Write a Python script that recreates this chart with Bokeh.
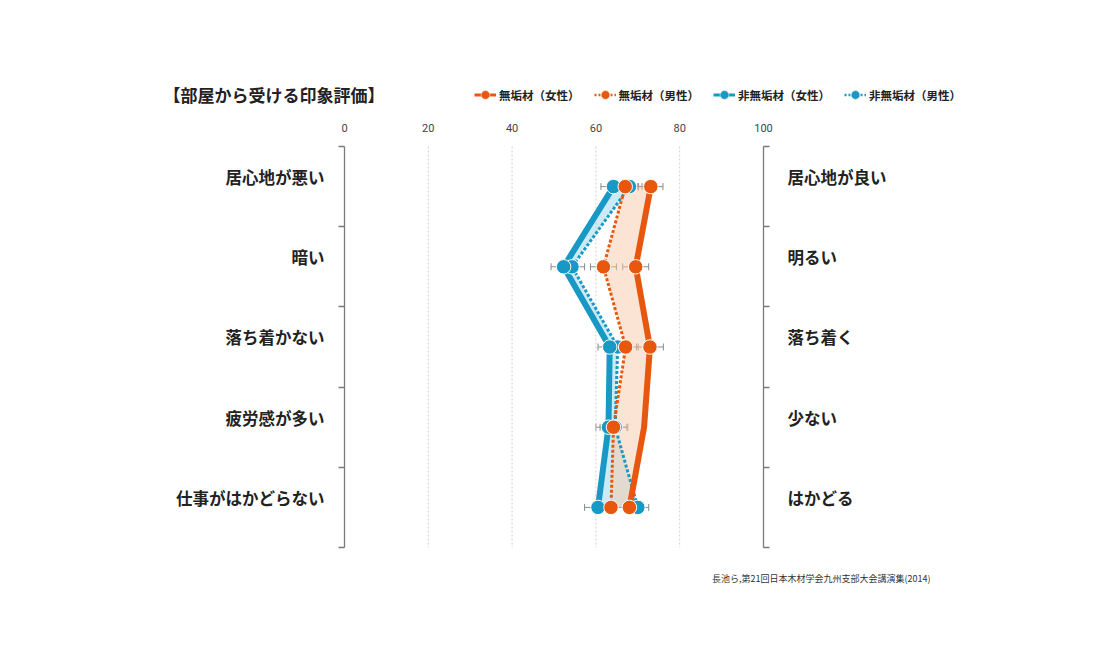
from bokeh.plotting import figure
from bokeh.models import (Range1d, FixedTicker, LinearAxis, Label, Legend, LegendItem,
                          ColumnDataSource, Whisker, TeeHead)
from bokeh.embed import file_html
from bokeh.resources import INLINE

# ---------------- data ----------------
left_labels = ["居心地が悪い", "暗い", "落ち着かない", "疲労感が多い", "仕事がはかどらない"]
right_labels = ["居心地が良い", "明るい", "落ち着く", "少ない", "はかどる"]
rows = [0.5, 1.5, 2.5, 3.5, 4.5]
row_edges = [0, 1, 2, 3, 4, 5]
x_ticks = [0, 20, 40, 60, 80, 100]
grid_ticks = [20, 40, 60, 80]

series_names = ["無垢材（女性）", "無垢材（男性）", "非無垢材（女性）", "非無垢材（男性）"]
wood_female = [73.1, 69.5, 72.9, 71.5, 68.0]
wood_male = [67.0, 61.8, 67.1, 64.2, 63.6]
nonwood_female = [64.2, 52.3, 63.3, 63.0, 60.5]
nonwood_male = [68.0, 54.3, 65.2, 64.6, 70.0]

wood_female_err = [2.9, 3.1, 3.2, 3.0, 3.0]
wood_male_err = [3.0, 3.1, 3.0, 3.2, 3.0]
nonwood_female_err = [3.0, 3.0, 2.8, 3.0, 3.2]
nonwood_male_err = [3.0, 3.0, 3.0, 3.0, 2.6]

# the 4th point of 無垢材（女性） has no marker / error bar in the source figure
wood_female_shown = [True, True, True, False, True]

title_text = "【部屋から受ける印象評価】"
source_text = "長池ら,第21回日本木材学会九州支部大会講演集(2014)"

ORANGE = "#E8570E"
BLUE = "#1898C4"
FONT = "Noto Sans CJK JP"

# ---------------- geometry (pixels) ----------------
W, H = 1084, 636
PLOT_L, PLOT_R = 344, 763      # pixel of x = 0 and x = 100
PLOT_T, PLOT_B = 146, 547      # pixel of row edge 0 and 5
sx = (PLOT_R - PLOT_L) / 100.0
sy = (PLOT_B - PLOT_T) / 5.0


def X(px):
    return (px - PLOT_L) / sx


def Y(py):
    return (py - PLOT_T) / sy


# the frame covers the whole canvas; axes are pinned with fixed_location
p = figure(width=W, height=H, output_backend="svg", toolbar_location=None, title=None,
           x_range=Range1d(X(0), X(W)), y_range=Range1d(Y(H), Y(0)),
           x_axis_type=None, y_axis_type=None, min_border=0)
p.outline_line_color = None
p.background_fill_color = "white"
p.border_fill_color = "white"
p.grid.visible = False

LABEL_SHIFT = 0.12  # texts sit slightly above the row centres, as in the source
p.extra_y_ranges = {"labels": Range1d(Y(H) + LABEL_SHIFT, Y(0) + LABEL_SHIFT)}

# top axis
xa = LinearAxis(fixed_location=0, bounds=(0, 100))
xa.ticker = FixedTicker(ticks=x_ticks)
xa.axis_line_color = None
xa.major_tick_line_color = None
xa.minor_tick_line_color = None
xa.major_label_standoff = 9
xa.major_label_text_font = "Roboto"
xa.major_label_text_font_size = "11px"
xa.major_label_text_color = "#444444"
p.add_layout(xa, "above")

# dotted vertical guides at 20..80, spanning the rows
p.segment(x0=grid_ticks, x1=grid_ticks, y0=[row_edges[0]] * len(grid_ticks),
          y1=[row_edges[-1]] * len(grid_ticks), line_color="#cfcfcf",
          line_dash="2 2", line_width=1)


def bracket_axis(loc):
    ax = LinearAxis(fixed_location=loc, bounds=(row_edges[0], row_edges[-1]))
    ax.ticker = FixedTicker(ticks=[], minor_ticks=row_edges)
    ax.axis_line_color = "#7a7a7a"
    ax.axis_line_width = 1.3
    ax.major_tick_line_color = None
    ax.major_tick_out = 0
    ax.major_tick_in = 0
    ax.minor_tick_line_color = "#7a7a7a"
    ax.minor_tick_line_width = 1.3
    ax.minor_tick_out = 6
    ax.minor_tick_in = 0
    ax.major_label_text_font_size = "0px"
    return ax


def label_axis(loc, labels, standoff):
    ax = LinearAxis(fixed_location=loc, y_range_name="labels")
    ax.ticker = FixedTicker(ticks=rows)
    ax.major_label_overrides = {r: t for r, t in zip(rows, labels)}
    ax.axis_line_color = None
    ax.major_tick_line_color = None
    ax.minor_tick_line_color = None
    ax.major_tick_out = 0
    ax.major_tick_in = 0
    ax.major_label_standoff = standoff
    ax.major_label_text_font = FONT
    ax.major_label_text_font_size = "16.5px"
    ax.major_label_text_font_style = "bold"
    ax.major_label_text_color = "#222222"
    return ax


p.add_layout(bracket_axis(x_ticks[0]), "left")
p.add_layout(bracket_axis(x_ticks[-1]), "right")
p.add_layout(label_axis(x_ticks[0], left_labels, 20), "left")
p.add_layout(label_axis(x_ticks[-1], right_labels, 24), "right")


# ---------------- error bars ----------------
def add_whisker(vals, errs, shown=None):
    if shown is None:
        shown = [True] * len(vals)
    lo = [v - e for v, e, s in zip(vals, errs, shown) if s]
    hi = [v + e for v, e, s in zip(vals, errs, shown) if s]
    yy = [r for r, s in zip(rows, shown) if s]
    src = ColumnDataSource(dict(y=yy, lo=lo, hi=hi))
    w = Whisker(source=src, base="y", lower="lo", upper="hi", dimension="width",
                line_color="#8a8a8a", line_width=1, level="underlay",
                upper_head=TeeHead(size=7, line_color="#8a8a8a", line_width=1),
                lower_head=TeeHead(size=7, line_color="#8a8a8a", line_width=1))
    p.add_layout(w)


add_whisker(nonwood_male, nonwood_male_err)
add_whisker(nonwood_female, nonwood_female_err)
add_whisker(wood_male, wood_male_err)
add_whisker(wood_female, wood_female_err, wood_female_shown)

# ---------------- filled bands ----------------
p.harea(x1=nonwood_female, x2=nonwood_male, y=rows, fill_color="#8FD0E6", fill_alpha=0.45)
p.harea(x1=wood_male, x2=wood_female, y=rows, fill_color="#F7C9A8", fill_alpha=0.5)

# ---------------- lines ----------------
p.line(nonwood_female, rows, line_color=BLUE, line_width=6)
p.line(nonwood_male, rows, line_color=BLUE, line_width=3, line_dash="3 2")
p.line(wood_male, rows, line_color=ORANGE, line_width=3, line_dash="3 2")
p.line(wood_female, rows, line_color=ORANGE, line_width=6)

# ---------------- markers ----------------
MS = 14.5
p.scatter(nonwood_male, rows, size=MS, fill_color=BLUE, line_color="white", line_width=1)
p.scatter(nonwood_female, rows, size=MS, fill_color=BLUE, line_color="white", line_width=1)
p.scatter(wood_male, rows, size=MS, fill_color=ORANGE, line_color="white", line_width=1)
p.scatter([v for v, s in zip(wood_female, wood_female_shown) if s],
          [r for r, s in zip(rows, wood_female_shown) if s],
          size=MS, fill_color=ORANGE, line_color="white", line_width=1)

# ---------------- legend (legend-only glyphs, with a single non-plotted point) ----------------
NAN = float("nan")
leg_styles = [(ORANGE, 3, "solid"), (ORANGE, 2.5, "2 2"), (BLUE, 3, "solid"), (BLUE, 2.5, "2 2")]
items = []
for name, (col, lw, dash) in zip(series_names, leg_styles):
    lr = p.line(x=[NAN], y=[NAN], line_color=col, line_width=lw, line_dash=dash)
    sr = p.scatter(x=[NAN], y=[NAN], fill_color=col, line_color="white", line_width=0.5)
    items.append(LegendItem(label=name, renderers=[lr, sr]))

GLYPH_H = 27
legend = Legend(items=items, orientation="horizontal",
                location=(474, H - (95 + GLYPH_H // 2)),
                glyph_width=22, glyph_height=GLYPH_H, label_standoff=3, spacing=14,
                padding=0, margin=0, border_line_color=None, background_fill_alpha=0,
                label_text_font=FONT, label_text_font_size="11.5px",
                label_text_font_style="bold", label_text_color="#222222")
p.add_layout(legend)

# ---------------- title & source ----------------
p.add_layout(Label(x=X(163), y=Y(94), text=title_text, text_baseline="middle",
                   text_align="left", text_font=FONT, text_font_size="17px",
                   text_font_style="bold", text_color="#222222"))
p.add_layout(Label(x=X(930), y=Y(578), text=source_text, text_baseline="middle",
                   text_align="right", text_font=FONT, text_font_size="9px",
                   text_color="#333333"))

open("out.html", "w").write(file_html(p, INLINE))
